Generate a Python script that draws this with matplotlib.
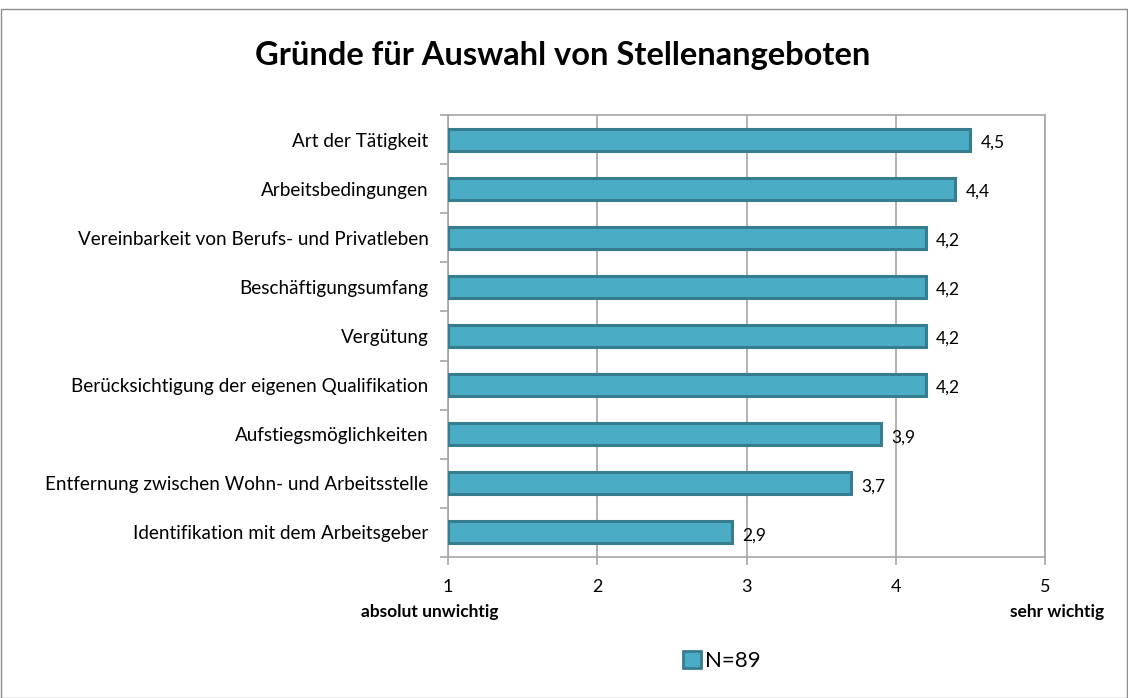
import matplotlib.pyplot as plt
from matplotlib.patches import Rectangle, Patch

# Daten
kategorien = [
    "Art der Tätigkeit",
    "Arbeitsbedingungen",
    "Vereinbarkeit von Berufs- und Privatleben",
    "Beschäftigungsumfang",
    "Vergütung",
    "Berücksichtigung der eigenen Qualifikation",
    "Aufstiegsmöglichkeiten",
    "Entfernung zwischen Wohn- und Arbeitsstelle",
    "Identifikation mit dem Arbeitsgeber",
]
werte = [4.5, 4.4, 4.2, 4.2, 4.2, 4.2, 3.9, 3.7, 2.9]
x_ticks = [1, 2, 3, 4, 5]
serie = "N=89"

plt.rcParams['font.family'] = ['Lato', 'DejaVu Sans']

fill = "#4BACC6"
edge = "#357D8F"
grau = "#A6A6A6"

fig = plt.figure(figsize=(11.28, 6.98), dpi=100)
ax = fig.add_axes([448/1128, 141/698, 597/1128, 442/698])

pos = list(range(len(kategorien)))
ax.barh(pos, [w - 1 for w in werte], left=1, height=0.45,
        color=fill, edgecolor=edge, linewidth=2.2, zorder=3)

for p, w in zip(pos, werte):
    ax.text(w + 0.07, p + 0.06, f"{w:.1f}".replace(".", ","), va="center", ha="left",
            fontsize=12.5, color="#000000")

ax.set_xlim(1, 5)
ax.set_ylim(len(kategorien) - 0.5, -0.5)
ax.set_xticks(x_ticks)
ax.set_xticklabels([str(t) for t in x_ticks], fontsize=13)
ax.set_yticks(pos)
ax.set_yticklabels(kategorien, fontsize=13.6)
ax.set_yticks([p - 0.5 for p in pos] + [len(kategorien) - 0.5], minor=True)
ax.tick_params(axis='y', which='major', length=0, pad=14)
ax.tick_params(axis='y', which='minor', length=6, color=grau, width=1.2, direction='out')
ax.tick_params(axis='x', length=6, color=grau, width=1.2, pad=10)
ax.xaxis.grid(True, color=grau, linewidth=1.2, zorder=0)
for s in ax.spines.values():
    s.set_color(grau)
    s.set_linewidth(1.2)

fig.text(563/1128, 1 - 55/698, "Gründe für Auswahl von Stellenangeboten",
         ha="center", va="center", fontsize=23.5, fontweight="bold")
fig.text(430/1128, 1 - 612/698, "absolut unwichtig", ha="center", va="center",
         fontsize=12.5, fontweight="bold")
fig.text(1057/1128, 1 - 612/698, "sehr wichtig", ha="center", va="center",
         fontsize=12.5, fontweight="bold")

handle = Patch(facecolor=fill, edgecolor=edge, linewidth=2)
fig.legend([handle], [serie], loc="center", bbox_to_anchor=(722/1128, 1 - 661/698),
           frameon=False, fontsize=16, handlelength=0.8, handleheight=0.8,
           handletextpad=0.2)

fig.patches.append(Rectangle((0.5/1128, 0.5/698), 1126/1128, 689/698,
                             transform=fig.transFigure, fill=False,
                             edgecolor="#8C8C8C", linewidth=1))

fig.savefig("out.png", dpi=100)
